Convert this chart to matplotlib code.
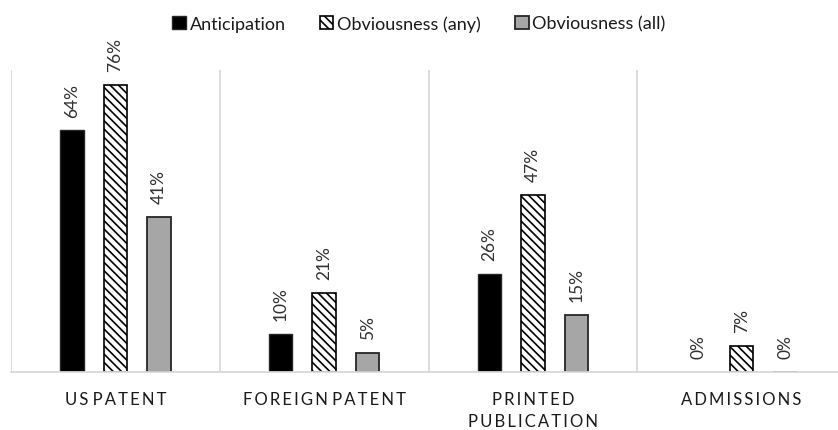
import matplotlib.pyplot as plt
import numpy as np

plt.rcParams['font.family'] = ['Lato', 'DejaVu Sans']
plt.rcParams['hatch.linewidth'] = 1.2

# data
categories = ["US PATENT", "FOREIGN PATENT", "PRINTED\nPUBLICATION", "ADMISSIONS"]
anticipation = [64, 10, 26, 0]
obv_any = [76, 21, 47, 7]
obv_all = [41, 5, 15, 0]


def spaced(s):
    # fake letter spacing with thin spaces inside words
    lines = []
    for line in s.split("\n"):
        lines.append(" ".join("\u2009".join(word) for word in line.split(" ")))
    return "\n".join(lines)


fig = plt.figure(figsize=(8.38, 4.31), dpi=100)
ax = fig.add_axes([11 / 838, 58 / 431, 835 / 838, 302 / 431])

x = np.arange(len(categories))
w = 0.113
step = 0.208

b1 = ax.bar(x - step, anticipation, w, color="black", edgecolor="#262626",
            linewidth=1, label="Anticipation")
b2 = ax.bar(x, obv_any, w, color="white", edgecolor="black", hatch="\\\\\\\\",
            linewidth=1.2, label="Obviousness (any)")
b3 = ax.bar(x + step, obv_all, w, color="#a6a6a6", edgecolor="#262626",
            linewidth=1.3, label="Obviousness (all)")

for bars, vals in [(b1, anticipation), (b2, obv_any), (b3, obv_all)]:
    for rect, v in zip(bars, vals):
        ax.annotate("%d%%" % v, (rect.get_x() + rect.get_width() / 2, rect.get_height()),
                    xytext=(0, 10), textcoords="offset points", rotation=90,
                    ha="center", va="bottom", fontsize=12.5, color="#303030")

ax.set_xlim(-0.5, 3.5)
ax.set_ylim(0, 80)
ax.set_yticks([])
ax.set_xticks(x)
ax.set_xticklabels([spaced(c) for c in categories], fontsize=12, color="#1a1a1a",
                   linespacing=1.45)
ax.tick_params(axis="x", length=0, pad=14)

# separators between groups
for sx in np.arange(-0.5, 4, 1):
    ax.axvline(sx, color="#d9d9d9", linewidth=1.3, zorder=0)

for side in ["top", "right", "left"]:
    ax.spines[side].set_visible(False)
ax.spines["bottom"].set_color("#d9d9d9")
ax.spines["bottom"].set_linewidth(1.3)

fig.legend(handles=[b1, b2, b3], loc="upper center", bbox_to_anchor=(0.5, 1.0),
           ncol=3, frameon=False, fontsize=13, handlelength=0.75, handleheight=0.75,
           handletextpad=0.2, columnspacing=1.9, labelcolor="#1a1a1a")

fig.savefig("out.png", dpi=100)
